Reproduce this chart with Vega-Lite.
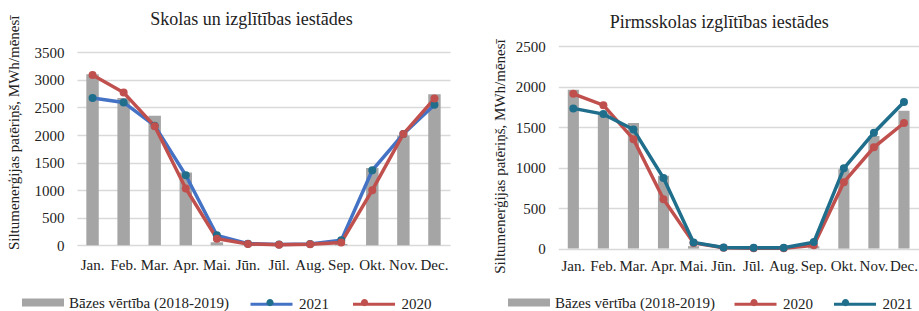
{
  "$schema": "https://vega.github.io/schema/vega-lite/v6.json",
  "padding": {"left": 5, "top": 10, "right": 0, "bottom": 0},
  "background": "white",
  "config": {
    "font": "Liberation Serif",
    "view": {"stroke": null},
    "axis": {"labelFont": "Liberation Serif", "titleFont": "Liberation Serif", "labelFontSize": 15, "titleFontSize": 15, "titleFontWeight": "normal", "labelColor": "#222222", "titleColor": "#222222", "domain": false, "ticks": false, "tickSize": 0, "gridColor": "#d9d9d9", "gridWidth": 1.5},
    "legend": {"labelFont": "Liberation Serif", "labelFontSize": 15, "labelColor": "#222222", "titleFont": "Liberation Serif"},
    "title": {"font": "Liberation Serif", "fontSize": 18, "fontWeight": "normal", "color": "#222222"}
  },
  "datasets": {
    "skolas": [
      {"month": "Jan.", "series": "Bāzes vērtība (2018-2019)", "value": 3100},
      {"month": "Feb.", "series": "Bāzes vērtība (2018-2019)", "value": 2670},
      {"month": "Mar.", "series": "Bāzes vērtība (2018-2019)", "value": 2350},
      {"month": "Apr.", "series": "Bāzes vērtība (2018-2019)", "value": 1320},
      {"month": "Mai.", "series": "Bāzes vērtība (2018-2019)", "value": 55},
      {"month": "Jūn.", "series": "Bāzes vērtība (2018-2019)", "value": 5},
      {"month": "Jūl.", "series": "Bāzes vērtība (2018-2019)", "value": 3},
      {"month": "Aug.", "series": "Bāzes vērtība (2018-2019)", "value": 5},
      {"month": "Sep.", "series": "Bāzes vērtība (2018-2019)", "value": 25},
      {"month": "Okt.", "series": "Bāzes vērtība (2018-2019)", "value": 1400},
      {"month": "Nov.", "series": "Bāzes vērtība (2018-2019)", "value": 1990},
      {"month": "Dec.", "series": "Bāzes vērtība (2018-2019)", "value": 2740},
      {"month": "Jan.", "series": "2021", "value": 2670},
      {"month": "Feb.", "series": "2021", "value": 2590},
      {"month": "Mar.", "series": "2021", "value": 2170},
      {"month": "Apr.", "series": "2021", "value": 1270},
      {"month": "Mai.", "series": "2021", "value": 180},
      {"month": "Jūn.", "series": "2021", "value": 30},
      {"month": "Jūl.", "series": "2021", "value": 15},
      {"month": "Aug.", "series": "2021", "value": 25},
      {"month": "Sep.", "series": "2021", "value": 90},
      {"month": "Okt.", "series": "2021", "value": 1360},
      {"month": "Nov.", "series": "2021", "value": 2020},
      {"month": "Dec.", "series": "2021", "value": 2550},
      {"month": "Jan.", "series": "2020", "value": 3090},
      {"month": "Feb.", "series": "2020", "value": 2770},
      {"month": "Mar.", "series": "2020", "value": 2160},
      {"month": "Apr.", "series": "2020", "value": 1030},
      {"month": "Mai.", "series": "2020", "value": 120},
      {"month": "Jūn.", "series": "2020", "value": 25},
      {"month": "Jūl.", "series": "2020", "value": 10},
      {"month": "Aug.", "series": "2020", "value": 20},
      {"month": "Sep.", "series": "2020", "value": 50},
      {"month": "Okt.", "series": "2020", "value": 1000},
      {"month": "Nov.", "series": "2020", "value": 2020},
      {"month": "Dec.", "series": "2020", "value": 2660}
    ],
    "pirmsskolas": [
      {"month": "Jan.", "series": "Bāzes vērtība (2018-2019)", "value": 1960},
      {"month": "Feb.", "series": "Bāzes vērtība (2018-2019)", "value": 1670},
      {"month": "Mar.", "series": "Bāzes vērtība (2018-2019)", "value": 1550},
      {"month": "Apr.", "series": "Bāzes vērtība (2018-2019)", "value": 900},
      {"month": "Mai.", "series": "Bāzes vērtība (2018-2019)", "value": 30},
      {"month": "Jūn.", "series": "Bāzes vērtība (2018-2019)", "value": 8},
      {"month": "Jūl.", "series": "Bāzes vērtība (2018-2019)", "value": 4},
      {"month": "Aug.", "series": "Bāzes vērtība (2018-2019)", "value": 4},
      {"month": "Sep.", "series": "Bāzes vērtība (2018-2019)", "value": 30},
      {"month": "Okt.", "series": "Bāzes vērtība (2018-2019)", "value": 980},
      {"month": "Nov.", "series": "Bāzes vērtība (2018-2019)", "value": 1390},
      {"month": "Dec.", "series": "Bāzes vērtība (2018-2019)", "value": 1700},
      {"month": "Jan.", "series": "2020", "value": 1910},
      {"month": "Feb.", "series": "2020", "value": 1770},
      {"month": "Mar.", "series": "2020", "value": 1350},
      {"month": "Apr.", "series": "2020", "value": 610},
      {"month": "Mai.", "series": "2020", "value": 70},
      {"month": "Jūn.", "series": "2020", "value": 12},
      {"month": "Jūl.", "series": "2020", "value": 5},
      {"month": "Aug.", "series": "2020", "value": 5},
      {"month": "Sep.", "series": "2020", "value": 40},
      {"month": "Okt.", "series": "2020", "value": 820},
      {"month": "Nov.", "series": "2020", "value": 1250},
      {"month": "Dec.", "series": "2020", "value": 1550},
      {"month": "Jan.", "series": "2021", "value": 1730},
      {"month": "Feb.", "series": "2021", "value": 1660},
      {"month": "Mar.", "series": "2021", "value": 1470},
      {"month": "Apr.", "series": "2021", "value": 870},
      {"month": "Mai.", "series": "2021", "value": 75},
      {"month": "Jūn.", "series": "2021", "value": 15},
      {"month": "Jūl.", "series": "2021", "value": 10},
      {"month": "Aug.", "series": "2021", "value": 10},
      {"month": "Sep.", "series": "2021", "value": 80},
      {"month": "Okt.", "series": "2021", "value": 990},
      {"month": "Nov.", "series": "2021", "value": 1430},
      {"month": "Dec.", "series": "2021", "value": 1810}
    ]
  },
  "hconcat": [
    {
      "width": 373,
      "height": 199.3,
      "title": {"text": "Skolas un izglītības iestādes", "frame": "group", "anchor": "middle", "dx": -12, "offset": -27.5, "baseline": "alphabetic"},
      "data": {"name": "skolas"},
      "encoding": {
        "x": {"field": "month", "type": "nominal", "sort": ["Jan.", "Feb.", "Mar.", "Apr.", "Mai.", "Jūn.", "Jūl.", "Aug.", "Sep.", "Okt.", "Nov.", "Dec."], "scale": {"paddingInner": 0.6, "paddingOuter": 0.3}, "axis": {"title": null, "labelAngle": 0, "labelPadding": 12, "grid": false, "labelOverlap": false, "labelFont": "Liberation Serif", "labelFontSize": 15}},
        "y": {"field": "value", "type": "quantitative", "scale": {"domain": [0, 3614], "nice": false}, "axis": {"title": "Siltumenerģijas patēriņš, MWh/mēnesī", "format": "d", "values": [0, 500, 1000, 1500, 2000, 2500, 3000, 3500], "labelPadding": 13, "labelFont": "Liberation Serif", "labelFontSize": 15, "titleX": -64, "titleY": 86.3, "titleAngle": 270, "titleBaseline": "middle", "titleAlign": "center"}}
      },
      "layer": [
        {
          "transform": [{"filter": "datum.series === 'Bāzes vērtība (2018-2019)'"}],
          "mark": {"type": "bar"},
          "encoding": {
            "color": {"field": "series", "type": "nominal", "scale": {"domain": ["Bāzes vērtība (2018-2019)"], "range": ["#a5a5a5"]},
              "legend": {"title": null, "orient": "none", "legendX": -55, "legendY": 235.6, "symbolSize": 1764, "labelFontSize": 15, "labelFont": "Liberation Serif", "labelColor": "#222222", "labelOffset": 5, "padding": 0, "symbolType": "M-1,-0.19H1V0.19H-1Z", "symbolStrokeWidth": 0, "symbolOpacity": 1}}
          }
        },
        {
          "transform": [{"filter": "datum.series !== 'Bāzes vērtība (2018-2019)'"}],
          "mark": {"type": "line", "strokeWidth": 3.5},
          "encoding": {
            "stroke": {"field": "series", "type": "nominal", "scale": {"domain": ["2021", "2020"], "range": ["#4472c4", "#c0504d"]},
              "legend": {"title": null, "orient": "none", "legendX": 172, "legendY": 235.6, "direction": "horizontal", "symbolSize": 1764, "labelFontSize": 15, "labelFont": "Liberation Serif", "labelColor": "#222222", "labelOffset": 5, "columnPadding": 17.5, "padding": 0, "symbolType": "M-1,0H1", "symbolStrokeWidth": 3, "symbolOpacity": 1, "zindex": 1}}
          }
        },
        {
          "transform": [{"filter": "datum.series !== 'Bāzes vērtība (2018-2019)'"}],
          "mark": {"type": "point", "filled": true, "size": 64, "opacity": 1},
          "encoding": {
            "fill": {"field": "series", "type": "nominal", "scale": {"domain": ["2020", "2021"], "range": ["#c0504d", "#1f6e8c"]},
              "legend": {"title": null, "orient": "none", "legendX": 172, "legendY": 235.6, "direction": "horizontal", "values": ["2021", "2020"], "symbolSize": 1764, "labelFontSize": 15, "labelFont": "Liberation Serif", "labelOpacity": 0, "labelOffset": 5, "columnPadding": 17.5, "padding": 0, "symbolType": "M-0.17,0A0.17,0.17 0 1,1 0.17,0A0.17,0.17 0 1,1 -0.17,0Z", "symbolStrokeWidth": 0, "symbolOpacity": 1, "zindex": 2}}
          }
        }
      ]
    },
    {
      "width": 360.7,
      "height": 202.6,
      "title": {"text": "Pirmsskolas izglītības iestādes", "frame": "group", "anchor": "middle", "dx": -19.5, "offset": -7.1, "baseline": "alphabetic"},
      "data": {"name": "pirmsskolas"},
      "encoding": {
        "x": {"field": "month", "type": "nominal", "sort": ["Jan.", "Feb.", "Mar.", "Apr.", "Mai.", "Jūn.", "Jūl.", "Aug.", "Sep.", "Okt.", "Nov.", "Dec."], "scale": {"paddingInner": 0.63, "paddingOuter": 0.315}, "axis": {"title": null, "labelAngle": 0, "labelPadding": 10, "grid": false, "labelOverlap": false, "labelFont": "Liberation Serif", "labelFontSize": 15}},
        "y": {"field": "value", "type": "quantitative", "scale": {"domain": [0, 2500], "nice": false}, "axis": {"title": "Siltumenerģijas patēriņš, MWh/mēnesī", "format": "d", "values": [0, 500, 1000, 1500, 2000, 2500], "labelPadding": 13, "labelFont": "Liberation Serif", "labelFontSize": 15, "titleX": -58.6, "titleY": 110, "titleAngle": 270, "titleBaseline": "middle", "titleAlign": "center"}}
      },
      "layer": [
        {
          "transform": [{"filter": "datum.series === 'Bāzes vērtība (2018-2019)'"}],
          "mark": {"type": "bar"},
          "encoding": {
            "color": {"field": "series", "type": "nominal", "scale": {"domain": ["Bāzes vērtība (2018-2019)"], "range": ["#a5a5a5"]},
              "legend": {"title": null, "orient": "none", "legendX": -50.3, "legendY": 235.6, "symbolSize": 1764, "labelFontSize": 15, "labelFont": "Liberation Serif", "labelColor": "#222222", "labelOffset": 5, "padding": 0, "symbolType": "M-1,-0.19H1V0.19H-1Z", "symbolStrokeWidth": 0, "symbolOpacity": 1}}
          }
        },
        {
          "transform": [{"filter": "datum.series !== 'Bāzes vērtība (2018-2019)'"}],
          "mark": {"type": "line", "strokeWidth": 3.5},
          "encoding": {
            "stroke": {"field": "series", "type": "nominal", "scale": {"domain": ["2020", "2021"], "range": ["#c0504d", "#1f6e8c"]},
              "legend": {"title": null, "orient": "none", "legendX": 174.7, "legendY": 235.6, "direction": "horizontal", "symbolSize": 1764, "labelFontSize": 15, "labelFont": "Liberation Serif", "labelColor": "#222222", "labelOffset": 5, "columnPadding": 14.5, "padding": 0, "symbolType": "M-1,0H1", "symbolStrokeWidth": 3, "symbolOpacity": 1, "zindex": 1}}
          }
        },
        {
          "transform": [{"filter": "datum.series !== 'Bāzes vērtība (2018-2019)'"}],
          "mark": {"type": "point", "filled": true, "size": 64, "opacity": 1},
          "encoding": {
            "fill": {"field": "series", "type": "nominal", "scale": {"domain": ["2021", "2020"], "range": ["#1f6e8c", "#c0504d"]},
              "legend": {"title": null, "orient": "none", "legendX": 174.7, "legendY": 235.6, "direction": "horizontal", "values": ["2020", "2021"], "symbolSize": 1764, "labelFontSize": 15, "labelFont": "Liberation Serif", "labelOpacity": 0, "labelOffset": 5, "columnPadding": 14.5, "padding": 0, "symbolType": "M-0.17,0A0.17,0.17 0 1,1 0.17,0A0.17,0.17 0 1,1 -0.17,0Z", "symbolStrokeWidth": 0, "symbolOpacity": 1, "zindex": 2}}
          }
        }
      ]
    }
  ],
  "spacing": 108.3,
  "bounds": "flush",
  "resolve": {"scale": {"x": "independent", "y": "independent", "color": "independent", "fill": "independent", "stroke": "independent"}, "legend": {"color": "independent", "fill": "independent", "stroke": "independent"}}
}
